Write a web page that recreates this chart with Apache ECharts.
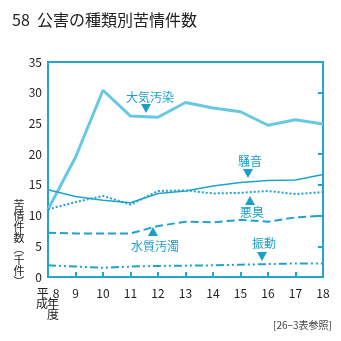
<!DOCTYPE html>
<html>
<head>
<meta charset="utf-8">
<script src="https://cdn.jsdelivr.net/npm/echarts@6/dist/echarts.min.js"></script>
<style>
  html, body { margin: 0; padding: 0; background: #fff; }
  #chart { width: 341px; height: 341px; }
</style>
</head>
<body>
<div id="chart"></div>
<script>
// 年度 (平成)
const years = ['8', '9', '10', '11', '12', '13', '14', '15', '16', '17', '18'];
// 苦情件数 (千件)
const airPollution = [11.0, 19.5, 30.4, 26.2, 26.0, 28.4, 27.5, 26.9, 24.7, 25.6, 24.9];
const noise        = [14.2, 13.1, 12.5, 12.1, 13.6, 14.0, 14.8, 15.4, 15.7, 15.8, 16.7];
const odor         = [11.0, 12.2, 13.2, 11.8, 14.0, 14.1, 13.6, 13.7, 14.0, 13.5, 13.8];
const waterPollution = [7.2, 7.1, 7.1, 7.1, 8.3, 9.0, 8.9, 9.3, 9.0, 9.7, 10.0];
const vibration    = [1.9, 1.7, 1.5, 1.7, 1.8, 1.85, 1.9, 2.0, 2.1, 2.2, 2.2];
const yTicks = { min: 0, max: 35, interval: 5 };

const AXIS = '#22a6cc';
const LINE = '#1fa3cc';
const LIGHT = '#68c8e2';
const LABEL = '#1b9fca';
const FONT = '"Noto Sans CJK JP", "Noto Sans", sans-serif';

const chart = echarts.init(document.getElementById('chart'), null, { renderer: 'canvas' });

function tag(text, x, y) {
  return { type: 'text', left: x, top: y, style: { text, fill: LABEL, font: '12px ' + FONT, textAlign: 'center' } };
}
function tri(x, y, down) {
  const pts = down ? [[x - 5, y], [x + 5, y], [x, y + 9]] : [[x - 5, y + 9], [x + 5, y + 9], [x, y]];
  return { type: 'polygon', shape: { points: pts }, style: { fill: LABEL } };
}
function blackText(text, x, y, size) {
  return { type: 'text', x, y, style: { text, fill: '#222', font: (size || 12) + 'px ' + FONT, textAlign: 'center', textVerticalAlign: 'middle' } };
}

// vertical axis title, one glyph per row
const yName = ['苦', '情', '件', '数', '︵', '千', '件', '︶'];

chart.setOption({
  animation: false,
  grid: { left: 48, right: 18, top: 62, bottom: 64, show: true, borderColor: AXIS, borderWidth: 2, backgroundColor: 'transparent' },
  xAxis: {
    type: 'category',
    data: years,
    boundaryGap: false,
    axisLine: { lineStyle: { color: AXIS, width: 2 } },
    axisTick: { inside: true, length: 5, interval: 0, lineStyle: { color: AXIS, width: 2 } },
    axisLabel: { interval: 0, color: '#222', fontFamily: FONT, fontSize: 12, margin: 10,
      formatter: v => v === '8' ? '{p|平}{n|8}' : v,
      rich: { p: { fontFamily: FONT, fontSize: 12, color: '#222' }, n: { fontFamily: FONT, fontSize: 12, color: '#222', padding: [0, 0, 0, 4] } } },
    splitLine: { show: false }
  },
  yAxis: [
    {
      type: 'value', min: yTicks.min, max: yTicks.max, interval: yTicks.interval,
      axisLine: { show: true, lineStyle: { color: AXIS, width: 2 } },
      axisTick: { show: false },
      axisLabel: { color: '#222', fontFamily: FONT, fontSize: 12, margin: 6 },
      splitLine: { show: false }
    },
    {
      type: 'value', position: 'right', min: yTicks.min, max: yTicks.max, interval: yTicks.interval,
      axisLine: { show: true, lineStyle: { color: AXIS, width: 2 } },
      axisTick: { show: true, inside: true, length: 5, lineStyle: { color: AXIS, width: 2 } },
      axisLabel: { show: false },
      splitLine: { show: false }
    }
  ],
  series: [
    { name: '大気汚染', type: 'line', data: airPollution, symbol: 'none', lineStyle: { color: LIGHT, width: 3 } },
    { name: '騒音', type: 'line', data: noise, symbol: 'none', lineStyle: { color: LINE, width: 1.5 } },
    { name: '悪臭', type: 'line', data: odor, symbol: 'none', lineStyle: { color: LINE, width: 2, type: [2, 2] } },
    { name: '水質汚濁', type: 'line', data: waterPollution, symbol: 'none', lineStyle: { color: LINE, width: 2, type: [8, 4] } },
    { name: '振動', type: 'line', data: vibration, symbol: 'none', lineStyle: { color: LINE, width: 2, type: [8, 3, 2, 3, 2, 3] } }
  ],
  graphic: [
    { type: 'text', left: 12, top: 12, style: { text: '58  公害の種類別苦情件数', fill: '#222', font: '16px ' + FONT } },
    ...yName.map((ch, i) => blackText(ch, 19, 205 + i * 11, 11)),
    blackText('成', 42, 303), blackText('年', 53, 303), blackText('度', 53, 314),
    { type: 'text', right: 9, top: 320, style: { text: '[26−3表参照]', fill: '#444', font: '10px ' + FONT } },
    tag('大気汚染', 126, 91), tri(146, 104, true),
    tag('騒音', 238, 155), tri(248, 169, true),
    tag('悪臭', 240, 206), tri(250, 196, false),
    tag('水質汚濁', 131, 240), tri(153, 227, false),
    tag('振動', 252, 237), tri(262, 252, true)
  ]
});
</script>
</body>
</html>
